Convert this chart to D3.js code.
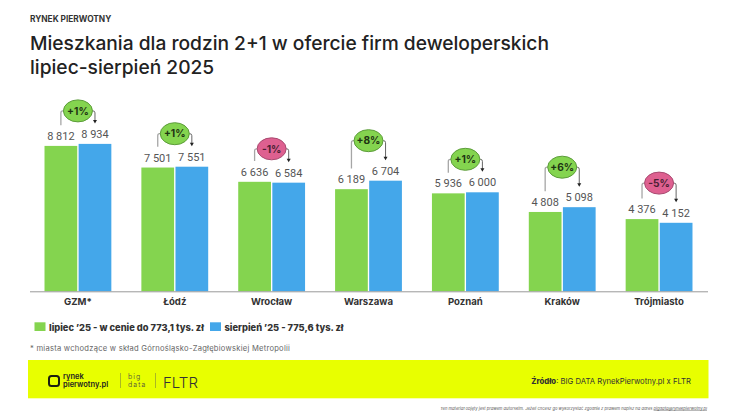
<!DOCTYPE html>
<html>
<head>
<meta charset="utf-8">
<script src="https://cdn.jsdelivr.net/npm/d3@7"></script>
<style>
  html, body { margin: 0; padding: 0; background: #fff; }
  svg { display: block; }
  text { font-family: Inter, "Open Sans", sans-serif; }
</style>
</head>
<body>
<svg id="chart"></svg>
<script>
var width = 737,
    height = 416;

var categories = ["GZM*", "Łódź", "Wrocław", "Warszawa", "Poznań", "Kraków", "Trójmiasto"];
var lipiec = [8812, 7501, 6636, 6189, 5936, 4808, 4376];
var sierpien = [8934, 7551, 6584, 6704, 6000, 5098, 4152];
var zmiana = [1, 1, -1, 8, 1, 6, -5];
var seriesNames = ["lipiec ’25 - w cenie do 773,1 tys. zł", "sierpień ’25 - 775,6 tys. zł"];

var green = "#84d44f",
    blue = "#44a7ea",
    pink = "#de6090",
    yellow = "#e8ff00";

var baseline = 291.3;

var svg = d3.select("#chart")
    .attr("width", width)
    .attr("height", height);

// header
svg.append("text").attr("x", 30).attr("y", 22)
  .style("font-size", "8.3px").style("font-weight", 700).attr("fill", "#333")
  .text("RYNEK PIERWOTNY");
svg.append("text").attr("x", 30).attr("y", 50)
  .style("font-size", "19.2px").style("font-weight", 500).attr("fill", "#222")
  .text("Mieszkania dla rodzin 2+1 w ofercie firm deweloperskich");
svg.append("text").attr("x", 30).attr("y", 74)
  .style("font-size", "19.2px").style("font-weight", 500).attr("fill", "#222")
  .text("lipiec-sierpień 2025");

// scales
var x = d3.scaleBand()
  .domain(categories)
  .range([29.5, 707.5])
  .paddingInner(0.31)
  .paddingOuter(0.155);

var xSub = d3.scaleBand()
  .domain([0, 1])
  .range([0, x.bandwidth()])
  .paddingInner(0.04);

var y = d3.scaleLinear()
  .domain([0, 10000])
  .range([baseline, baseline - 165]);

// bubbles sit higher over the larger changes
var lift = d3.scaleThreshold()
  .domain([5, 6])
  .range([33, 36, 40]);

var fmt = function(v) { return d3.format(",")(v).replace(",", " "); };

// bars
var groups = svg.selectAll("g.group")
  .data(categories)
  .join("g")
    .attr("class", "group")
    .attr("transform", function(d) { return "translate(" + x(d) + ",0)"; });

[lipiec, sierpien].forEach(function(values, s) {
  var color = s === 0 ? green : blue;
  groups.append("rect")
    .attr("x", xSub(s))
    .attr("width", xSub.bandwidth())
    .attr("y", function(d, i) { return y(values[i]); })
    .attr("height", function(d, i) { return baseline - y(values[i]); })
    .attr("fill", color);
  groups.append("text")
    .attr("x", xSub(s) + xSub.bandwidth() / 2)
    .attr("y", function(d, i) { return y(values[i]) - 6; })
    .attr("text-anchor", "middle")
    .style("font-family", "Roboto, sans-serif")
    .style("font-size", "11px")
    .attr("fill", "#555")
    .text(function(d, i) { return fmt(values[i]); });
});

// brackets with arrows and change bubbles
var cxLeft = xSub(0) + xSub.bandwidth() / 2,
    cxRight = xSub(1) + xSub.bandwidth() / 2,
    cxMid = x.bandwidth() / 2;

function bubbleY(i) {
  return y(Math.max(lipiec[i], sierpien[i])) - lift(Math.abs(zmiana[i]));
}

groups.append("path")
  .attr("fill", "none")
  .attr("stroke", "#a6a6a6")
  .attr("stroke-width", 1.3)
  .attr("d", function(d, i) {
    return "M" + cxLeft + "," + (y(lipiec[i]) - 20.7) +
      "V" + (bubbleY(i) + 2) + "Q" + cxLeft + "," + bubbleY(i) + " " + (cxLeft + 2) + "," + bubbleY(i) +
      "H" + cxMid;
  });

groups.append("path")
  .attr("fill", "none")
  .attr("stroke", "#666")
  .attr("stroke-width", 1)
  .attr("d", function(d, i) {
    return "M" + cxMid + "," + bubbleY(i) + "H" + (cxRight - 2) +
      "Q" + cxRight + "," + bubbleY(i) + " " + cxRight + "," + (bubbleY(i) + 2) +
      "V" + (y(sierpien[i]) - 23);
  });

groups.append("path")
  .attr("fill", "#222")
  .attr("d", function(d, i) {
    var tip = y(sierpien[i]) - 20.5;
    return "M" + cxRight + "," + tip +
      "l-2,-3.5h4z";
  });

groups.append("ellipse")
  .attr("cx", cxMid)
  .attr("cy", function(d, i) { return bubbleY(i); })
  .attr("rx", 14.5)
  .attr("ry", 11)
  .attr("fill", function(d, i) { return zmiana[i] < 0 ? pink : green; })
  .attr("stroke", function(d, i) { return zmiana[i] < 0 ? "#a84a70" : "#5c9c3a"; })
  .attr("stroke-width", 1);

groups.append("text")
  .attr("x", cxMid)
  .attr("y", function(d, i) { return bubbleY(i) + 3.7; })
  .attr("text-anchor", "middle")
  .style("font-size", "10.2px")
  .style("font-weight", 700)
  .attr("fill", function(d, i) { return zmiana[i] < 0 ? "#4a1f33" : "#1e3312"; })
  .text(function(d, i) { return (zmiana[i] > 0 ? "+" : "-") + Math.abs(zmiana[i]) + "%"; });

// x axis
var xAxis = svg.append("g")
  .attr("transform", "translate(0," + baseline + ")")
  .call(d3.axisBottom(x).tickSize(0).tickPadding(7));
xAxis.select(".domain").attr("stroke", "#999").attr("stroke-width", 1);
xAxis.selectAll("text")
  .attr("fill", "#333")
  .style("font-family", "Inter, sans-serif")
  .style("font-size", "9.6px")
  .style("font-weight", 700);

// legend
var legendX = [34.5, 210];
seriesNames.forEach(function(name, s) {
  svg.append("rect")
    .attr("x", legendX[s]).attr("y", 322.3)
    .attr("width", 11).attr("height", 8.7)
    .attr("fill", s === 0 ? green : blue);
  svg.append("text")
    .attr("x", legendX[s] + 14.5).attr("y", 330.5)
    .style("font-size", "9.3px").style("font-weight", 800).attr("fill", "#333")
    .text(name);
});

// footnote
svg.append("text").attr("x", 30).attr("y", 350.7)
  .style("font-size", "7.6px").style("letter-spacing", "0.25px").attr("fill", "#666")
  .text("* miasta wchodzące w skład Górnośląsko-Zagłębiowskiej Metropolii");

// bottom band
svg.append("rect")
  .attr("x", 28).attr("y", 360)
  .attr("width", 680.5).attr("height", 38.3)
  .attr("fill", yellow);

// logo
svg.append("rect")
  .attr("x", 49).attr("y", 376)
  .attr("width", 10).attr("height", 10).attr("rx", 2.5)
  .attr("fill", "none").attr("stroke", "#1c1f10").attr("stroke-width", 2);
var logoText = svg.append("text")
  .style("font-size", "7.5px").style("font-weight", 600).attr("fill", "#222");
logoText.append("tspan").attr("x", 63).attr("y", 379).text("rynek");
logoText.append("tspan").attr("x", 63).attr("y", 386.6).text("pierwotny.pl");
svg.append("line")
  .attr("x1", 120.5).attr("x2", 120.5).attr("y1", 373).attr("y2", 388)
  .attr("stroke", "#8f9a30").attr("stroke-width", 0.7);
var bigData = svg.append("text")
  .style("font-size", "7px").style("letter-spacing", "1.1px").style("font-weight", 300).attr("fill", "#444");
bigData.append("tspan").attr("x", 128).attr("y", 378.6).text("big");
bigData.append("tspan").attr("x", 128).attr("y", 386.7).text("data");
svg.append("line")
  .attr("x1", 155.5).attr("x2", 155.5).attr("y1", 373).attr("y2", 388)
  .attr("stroke", "#8f9a30").attr("stroke-width", 0.7);
svg.append("text").attr("x", 163).attr("y", 388)
  .style("font-size", "15px").style("font-weight", 300).attr("fill", "#333").text("FLTR");

// source
var source = svg.append("text")
  .attr("x", 691).attr("y", 384)
  .attr("text-anchor", "end")
  .style("font-size", "7.7px").attr("fill", "#333");
source.append("tspan").style("font-weight", 800).text("Źródło");
source.append("tspan").text(": BIG DATA RynekPierwotny.pl x FLTR");

// small print
var small = svg.append("text")
  .attr("x", 707).attr("y", 409.5)
  .attr("text-anchor", "end")
  .style("font-size", "4.1px").style("font-style", "italic").attr("fill", "#555");
small.append("tspan").text("Ten materiał objęty jest prawem autorskim. Jeżeli chcesz go wykorzystać zgodnie z prawem napisz na adres ");
small.append("tspan").attr("text-decoration", "underline").text("bigdata@rynekpierwotny.pl");
</script>
</body>
</html>
